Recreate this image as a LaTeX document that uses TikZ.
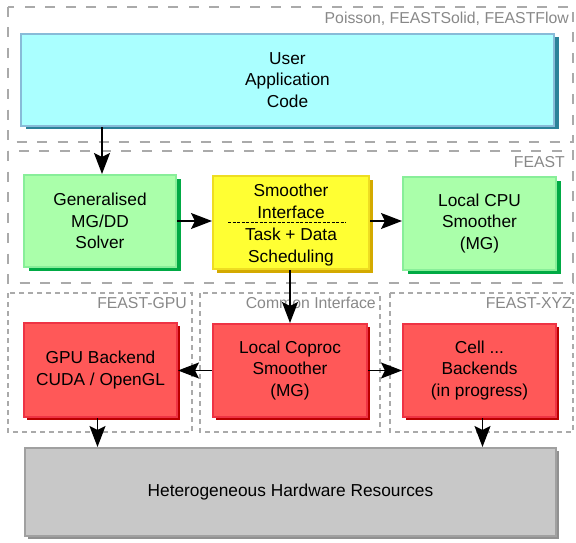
\documentclass[tikz,border=0pt]{standalone}
\usepackage{fontspec}
\setmainfont{Liberation Sans}
\usetikzlibrary{shadows,arrows.meta}
\definecolor{ucyan}{HTML}{AAFFFF}
\definecolor{ucyanb}{HTML}{88BBD8}
\definecolor{ucyans}{HTML}{2B8299}
\definecolor{ugreen}{HTML}{AAFFAA}
\definecolor{ugreenb}{HTML}{88EE99}
\definecolor{ugreens}{HTML}{00AA44}
\definecolor{uyellow}{HTML}{FFFF33}
\definecolor{uyellowb}{HTML}{EEDD22}
\definecolor{uyellows}{HTML}{D4AA00}
\definecolor{ured}{HTML}{FF5858}
\definecolor{uredb}{HTML}{EE3344}
\definecolor{ureds}{HTML}{BB0000}
\definecolor{ugray}{HTML}{C8C8C8}
\definecolor{ugrayb}{HTML}{A0A0A0}
\definecolor{ugrays}{HTML}{909090}
\definecolor{dashgray}{HTML}{AAAAAA}
\definecolor{labgray}{HTML}{888888}
\begin{document}
\begin{tikzpicture}[x=1pt,y=-1pt,
  box/.style={draw, line width=2pt, align=center, inner sep=0pt,
    font=\fontsize{17.3}{21.7}\selectfont},
  userbox/.style={box, fill=ucyan, draw=ucyanb,
    drop shadow={shadow xshift=5pt, shadow yshift=-3pt, fill=ucyans, opacity=1}},
  greenbox/.style={box, fill=ugreen, draw=ugreenb,
    drop shadow={shadow xshift=5pt, shadow yshift=-4pt, fill=ugreens, opacity=1}},
  yellowbox/.style={box, fill=uyellow, draw=uyellowb,
    drop shadow={shadow xshift=4pt, shadow yshift=-4pt, fill=uyellows, opacity=1}},
  redbox/.style={box, fill=ured, draw=uredb,
    drop shadow={shadow xshift=3pt, shadow yshift=-3pt, fill=ureds, opacity=1}},
  graybox/.style={box, fill=ugray, draw=ugrayb,
    drop shadow={shadow xshift=3pt, shadow yshift=-3pt, fill=ugrays, opacity=1}},
  thickdash/.style={draw=dashgray, line width=2.5pt, dash pattern=on 10pt off 10.5pt},
  thindash/.style={draw=dashgray, line width=1.2pt, dash pattern=on 5pt off 4pt},
  lab/.style={text=labgray, inner sep=0pt, anchor=base east,
    font=\fontsize{15.8}{18}\selectfont},
  arr/.style={line width=1.3pt, -{Stealth[length=21pt,width=16pt,inset=4pt]}}
]
\useasboundingbox (0,0) rectangle (576,543);

% group frames
\draw[thickdash] (8,7) rectangle (573,142);
\draw[thickdash] (8,151) rectangle (573,283);
\draw[thindash] (8,293) rectangle (192,432);
\draw[thindash] (200,293) rectangle (380,432);
\draw[thindash] (390,293) rectangle (573,432);

% frame labels
\node[lab] (l1) at (569,24) {Poisson, FEASTSolid, FEASTFlow};
\node[lab] (l2) at (565,167) {FEAST};
\node[lab] (l3) at (187,308) {FEAST-GPU};
\node[lab] (l4) at (376,308) {Common Interface};
\node[lab] (l5) at (572,308) {FEAST-XYZ};

% boxes
\node[userbox, minimum width=533pt, minimum height=92pt] (user) at (287.5,80) {User\\Application\\Code};
\node[greenbox, minimum width=152pt, minimum height=92pt] (gen) at (100,221) {Generalised\\MG/DD\\Solver};
\node[yellowbox, minimum width=156pt, minimum height=93pt] (smooth) at (291,222.5) {};
\node[font=\fontsize{17.3}{21.7}\selectfont, align=center, inner sep=0pt] (smtxt) at (291,225) {Smoother\\Interface\\Task + Data\\Scheduling};
\node[greenbox, minimum width=153pt, minimum height=93pt] (cpu) at (479.5,223.5) {Local CPU\\Smoother\\(MG)};
\node[redbox, minimum width=153pt, minimum height=94pt] (gpu) at (100.5,370) {GPU Backend\\CUDA / OpenGL};
\node[redbox, minimum width=154pt, minimum height=93pt] (coproc) at (290,370.5) {Local Coproc\\Smoother\\(MG)};
\node[redbox, minimum width=153pt, minimum height=93pt] (cell) at (479.5,370.5) {Cell ...\\Backends\\(in progress)};
\node[graybox, minimum width=531pt, minimum height=88pt] (hw) at (290.5,492) {Heterogeneous Hardware Resources};

% dashed separator in yellow box
\coordinate (sepl) at (228,222.5);
\coordinate (sepr) at (346,222.5);
\draw[line width=1pt, dash pattern=on 3pt off 1.5pt] (sepl) -- (sepr);

% connectors
\draw[arr] ([xshift=2pt]user.south -| gen.north) -- ([xshift=2pt]gen.north);
\draw[arr] (gen.east) -- (gen.east -| smooth.west);
\draw[arr] (smooth.east |- gen.east) -- (smooth.east |- gen.east -| cpu.west);
\draw[arr] (smooth.south -| coproc.north) -- (coproc.north);
\draw[arr] (coproc.west) -- (gpu.east |- coproc.west);
\draw[arr] (coproc.east) -- (cell.west |- coproc.east);
\draw[arr] ([xshift=-3pt]gpu.south) -- ([xshift=-3pt]gpu.south |- hw.north);
\draw[arr] ([xshift=3pt]cell.south) -- ([xshift=3pt]cell.south |- hw.north);
\end{tikzpicture}
\end{document}
